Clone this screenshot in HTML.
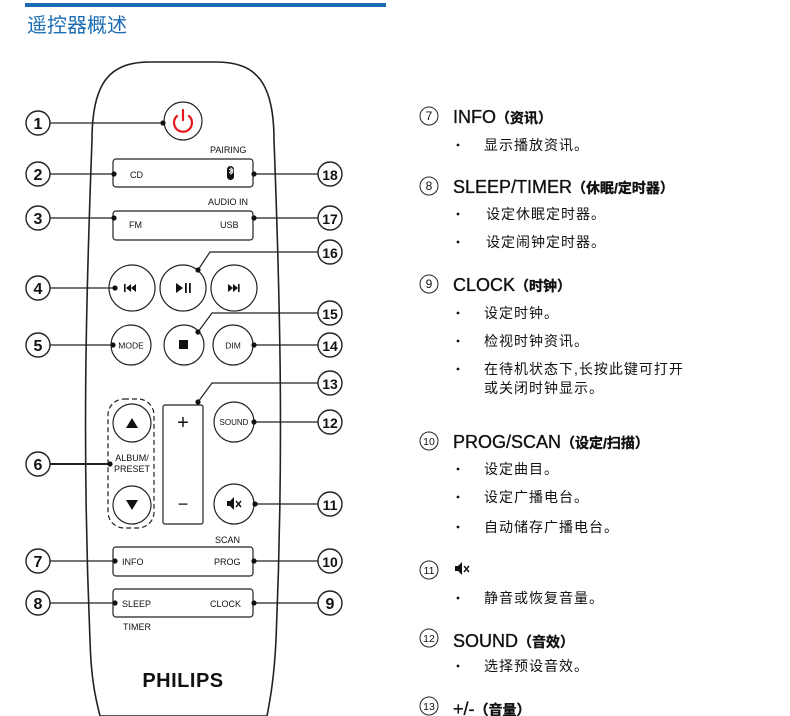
<!DOCTYPE html>
<html><head><meta charset="utf-8"><style>
html,body{margin:0;padding:0;background:#fff}
svg{display:block}
text{font-family:"Liberation Sans","Noto Sans CJK SC",sans-serif;fill:#111}
</style></head><body>
<svg width="790" height="716" viewBox="0 0 790 716" xmlns="http://www.w3.org/2000/svg">
<rect x="25" y="3" width="361" height="4" fill="#1a6cb4"/>
<text x="27" y="32" font-size="20" style="fill:#1a6cb4">遥控器概述</text>

<path d="M92,140 C92,82 110,62 150,62 L216,62 C256,62 274,82 274,140 C280,300 284,450 276,640 C274,680 270,700 267,716 L100,716 C96,700 91,680 90,640 C82,450 86,300 92,140 Z" fill="none" stroke="#222" stroke-width="1.6"/>

<g fill="none" stroke="#222" stroke-width="1.2">
<circle cx="183" cy="121" r="19"/>
<rect x="113" y="159" width="140" height="28" rx="3"/>
<rect x="113" y="211" width="140" height="29" rx="3"/>
<rect x="113" y="547" width="140" height="29" rx="3"/>
<rect x="113" y="589" width="140" height="28" rx="3"/>
<circle cx="132" cy="288" r="23"/>
<circle cx="183" cy="288" r="23"/>
<circle cx="234" cy="288" r="23"/>
<circle cx="131" cy="345" r="20"/>
<circle cx="184" cy="345" r="20"/>
<circle cx="233" cy="345" r="20"/>
<rect x="108" y="399" width="46" height="129" rx="16" stroke-dasharray="5,3"/>
<circle cx="132" cy="423" r="19"/>
<circle cx="132" cy="505" r="19"/>
<rect x="163" y="405" width="40" height="119" rx="2"/>
<circle cx="234" cy="422" r="20"/>
<circle cx="234" cy="504" r="20"/>
</g>

<g fill="none" stroke="#e8141c" stroke-width="2.2" stroke-linecap="round">
<path d="M177,116 A9,9 0 1 0 189,116"/>
<line x1="183" y1="110" x2="183" y2="120"/>
</g>

<g stroke="#222" stroke-width="1.2" fill="none">
<line x1="50" y1="123" x2="163" y2="123"/>
<line x1="50" y1="174" x2="113" y2="174"/>
<line x1="50" y1="218" x2="113" y2="218"/>
<line x1="50" y1="288" x2="114" y2="288"/>
<line x1="50" y1="345" x2="113" y2="345"/>
<line x1="50" y1="464" x2="110" y2="464" stroke-width="2"/>
<line x1="50" y1="561" x2="114" y2="561"/>
<line x1="50" y1="603" x2="114" y2="603"/>
<line x1="253" y1="174" x2="318" y2="174"/>
<line x1="253" y1="218" x2="318" y2="218"/>
<polyline points="198,270 210,252 318,252"/>
<polyline points="198,332 212,313 318,313"/>
<polyline points="198,402 212,383 318,383"/>
<line x1="254" y1="345" x2="318" y2="345"/>
<line x1="254" y1="422" x2="318" y2="422"/>
<line x1="255" y1="504" x2="318" y2="504"/>
<line x1="253" y1="561" x2="318" y2="561"/>
<line x1="253" y1="603" x2="318" y2="603"/>
</g>
<g fill="#111">
<circle cx="163" cy="123" r="2.6"/><circle cx="114" cy="174" r="2.6"/><circle cx="114" cy="218" r="2.6"/>
<circle cx="115" cy="288" r="2.6"/><circle cx="113" cy="345" r="2.6"/><circle cx="110" cy="464" r="2.6"/>
<circle cx="115" cy="561" r="2.6"/><circle cx="115" cy="603" r="2.6"/>
<circle cx="254" cy="174" r="2.6"/><circle cx="254" cy="218" r="2.6"/><circle cx="198" cy="270" r="2.6"/>
<circle cx="198" cy="332" r="2.6"/><circle cx="198" cy="402" r="2.6"/><circle cx="254" cy="345" r="2.6"/>
<circle cx="254" cy="422" r="2.6"/><circle cx="255" cy="504" r="2.6"/><circle cx="254" cy="561" r="2.6"/>
<circle cx="254" cy="603" r="2.6"/>
</g>

<g fill="#fff" stroke="#222" stroke-width="1.4">
<circle cx="38" cy="123" r="12"/><circle cx="38" cy="174" r="12"/><circle cx="38" cy="218" r="12"/>
<circle cx="38" cy="288" r="12"/><circle cx="38" cy="345" r="12"/><circle cx="38" cy="464" r="12"/>
<circle cx="38" cy="561" r="12"/><circle cx="38" cy="603" r="12"/>
<circle cx="330" cy="174" r="12"/><circle cx="330" cy="218" r="12"/><circle cx="330" cy="252" r="12"/>
<circle cx="330" cy="313" r="12"/><circle cx="330" cy="345" r="12"/><circle cx="330" cy="383" r="12"/>
<circle cx="330" cy="422" r="12"/><circle cx="330" cy="504" r="12"/><circle cx="330" cy="561" r="12"/>
<circle cx="330" cy="603" r="12"/>
</g>
<g font-size="16" text-anchor="middle" font-weight="bold">
<text x="38" y="129">1</text><text x="38" y="180">2</text><text x="38" y="224">3</text>
<text x="38" y="294">4</text><text x="38" y="351">5</text><text x="38" y="470">6</text>
<text x="38" y="567">7</text><text x="38" y="609">8</text>
<text x="330" y="180" font-size="14">18</text><text x="330" y="224" font-size="14">17</text><text x="330" y="258" font-size="14">16</text>
<text x="330" y="319" font-size="14">15</text><text x="330" y="351" font-size="14">14</text><text x="330" y="389" font-size="14">13</text>
<text x="330" y="428" font-size="14">12</text><text x="330" y="510" font-size="14">11</text><text x="330" y="567" font-size="14">10</text>
<text x="330" y="609">9</text>
</g>

<g font-size="9">
<text x="210" y="153">PAIRING</text>
<text x="130" y="178">CD</text>
<text x="208" y="205">AUDIO IN</text>
<text x="129" y="228">FM</text>
<text x="220" y="228">USB</text>
<text x="131" y="348.5" text-anchor="middle" font-size="8.5">MODE</text>
<text x="233" y="348.5" text-anchor="middle" font-size="8.5">DIM</text>
<text x="234" y="425" text-anchor="middle" font-size="8">SOUND</text>
<text x="132" y="461" text-anchor="middle">ALBUM/</text>
<text x="132" y="472" text-anchor="middle">PRESET</text>
<text x="215" y="543">SCAN</text>
<text x="122" y="565">INFO</text>
<text x="214" y="565">PROG</text>
<text x="122" y="607">SLEEP</text>
<text x="210" y="607">CLOCK</text>
<text x="123" y="630">TIMER</text>
</g>
<text x="183" y="687" text-anchor="middle" font-size="20" font-weight="bold" letter-spacing="0.5">PHILIPS</text>
<text x="183" y="429" text-anchor="middle" font-size="20">+</text>
<text x="183" y="510" text-anchor="middle" font-size="18">−</text>

<g fill="#111">
<rect x="227" y="166" width="7" height="14" rx="3.5"/>
<path d="M124,284 v8 h1.6 v-8z M131,284 l-5,4 l5,4z M136,284 l-5,4 l5,4z"/>
<path d="M176,283 v10 l7,-5z M185,283 h1.8 v10 h-1.8z M189,283 h1.8 v10 h-1.8z"/>
<path d="M228,284 l5,4 l-5,4z M233,284 l5,4 l-5,4z M238,284 h1.6 v8 h-1.6z"/>
<rect x="179" y="340" width="9" height="9"/>
<path d="M126,428 l6,-10 l6,10z"/>
<path d="M126,500 l6,10 l6,-10z"/>
<path d="M227,501 h3 l4,-4 v13 l-4,-4 h-3z"/>
</g>
<path d="M229,169 l4,3 l-2,2 v-6 l2,2 l-4,3" stroke="#fff" stroke-width="0.9" fill="none"/>
<path d="M236,501 l5,6 M241,501 l-5,6" stroke="#111" stroke-width="1.4"/>

<g fill="none" stroke="#222" stroke-width="1">
<circle cx="429" cy="116" r="9"/><circle cx="429" cy="186" r="9"/><circle cx="429" cy="284" r="9"/>
<circle cx="429" cy="441" r="9"/><circle cx="429" cy="570" r="9"/><circle cx="429" cy="638" r="9"/>
<circle cx="429" cy="706" r="9"/>
</g>
<g font-size="12" text-anchor="middle">
<text x="429" y="120">7</text><text x="429" y="190">8</text><text x="429" y="288">9</text>
<text x="429" y="445" font-size="10.5">10</text><text x="429" y="574" font-size="10.5">11</text>
<text x="429" y="642" font-size="10.5">12</text><text x="429" y="710" font-size="10.5">13</text>
</g>
<g font-size="18" stroke="#111" stroke-width="0.35">
<text x="453" y="123">INFO<tspan font-size="14" font-weight="bold">（资讯）</tspan></text>
<text x="453" y="193">SLEEP/TIMER<tspan font-size="14" font-weight="bold">（休眠/定时器）</tspan></text>
<text x="453" y="291">CLOCK<tspan font-size="14" font-weight="bold">（时钟）</tspan></text>
<text x="453" y="448">PROG/SCAN<tspan font-size="14" font-weight="bold">（设定/扫描）</tspan></text>
<text x="453" y="647">SOUND<tspan font-size="14" font-weight="bold">（音效）</tspan></text>
<text x="453" y="715">+/-<tspan font-size="14" font-weight="bold">（音量）</tspan></text>
</g>
<path d="M455,566 h3 l4,-4 v13 l-4,-4 h-3z" fill="#111"/>
<path d="M464,566 l5,6 M469,566 l-5,6" stroke="#111" stroke-width="1.4"/>
<g fill="#111">
<circle cx="458" cy="145" r="1.4"/><circle cx="458" cy="214" r="1.4"/><circle cx="458" cy="242" r="1.4"/>
<circle cx="458" cy="313" r="1.4"/><circle cx="458" cy="341" r="1.4"/><circle cx="458" cy="369" r="1.4"/>
<circle cx="458" cy="469" r="1.4"/><circle cx="458" cy="497" r="1.4"/><circle cx="458" cy="527" r="1.4"/>
<circle cx="458" cy="598" r="1.4"/><circle cx="458" cy="666" r="1.4"/>
</g>
<g font-size="14" letter-spacing="1">
<text x="484" y="150">显示播放资讯。</text>
<text x="486" y="219">设定休眠定时器。</text>
<text x="486" y="247">设定闹钟定时器。</text>
<text x="484" y="318">设定时钟。</text>
<text x="484" y="346">检视时钟资讯。</text>
<text x="484" y="374">在待机状态下,长按此键可打开</text>
<text x="484" y="393">或关闭时钟显示。</text>
<text x="484" y="474">设定曲目。</text>
<text x="484" y="502">设定广播电台。</text>
<text x="484" y="532">自动储存广播电台。</text>
<text x="484" y="603">静音或恢复音量。</text>
<text x="484" y="671">选择预设音效。</text>
</g>
</svg>
</body></html>
